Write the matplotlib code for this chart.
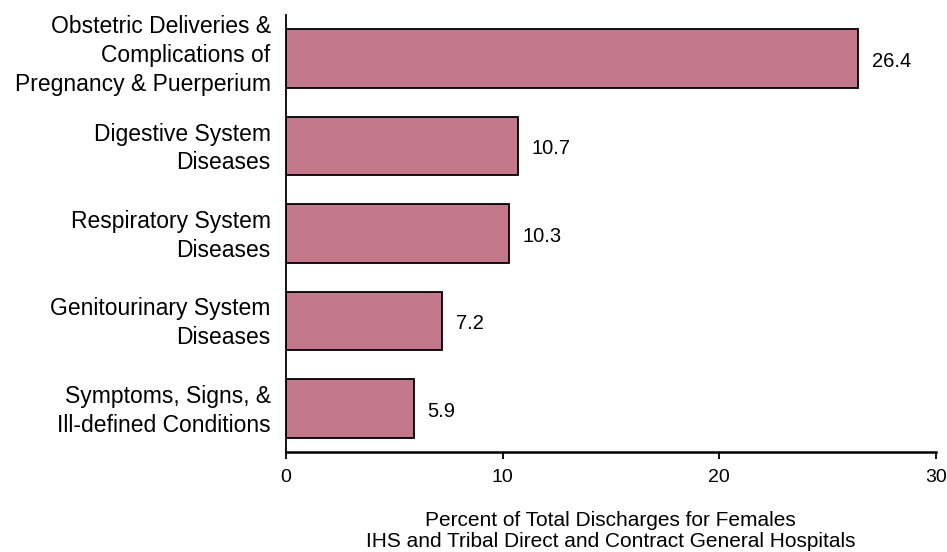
import numpy as np
import matplotlib
matplotlib.use("Agg")
from matplotlib import pyplot as plt
from matplotlib.transforms import ScaledTranslation

categories = [
    "Symptoms, Signs, &\nIll-defined Conditions",
    "Genitourinary System\nDiseases",
    "Respiratory System\nDiseases",
    "Digestive System\nDiseases",
    "Obstetric Deliveries &\nComplications of\nPregnancy & Puerperium",
]
values = [5.9, 7.2, 10.3, 10.7, 26.4]
xticks = [0, 10, 20, 30]

plt.rcParams['font.family'] = ['Liberation Sans', 'DejaVu Sans']

fig = plt.figure(figsize=(9.47, 5.52), dpi=100)
ax = fig.add_axes([0.302, 0.181, 0.686, 0.792])

pos = np.arange(len(categories))
ax.barh(pos, values, height=0.67, color='#C4788C', edgecolor='black', linewidth=1.3)

for y, v in zip(pos, values):
    ax.annotate(f"{v:.1f}", (v, y), xytext=(10, -2), textcoords='offset points',
                va='center', ha='left', fontsize=14.5)

ax.set_xlim(0, 30)
ax.set_ylim(-0.5, 4.5)
ax.set_xticks(xticks)
ax.set_yticks(pos)
ax.tick_params(axis='y', length=0, pad=11, labelsize=16.5)
ax.tick_params(axis='x', length=5, width=1.3, labelsize=14, pad=7)
ax.set_yticklabels(categories, ha='right', multialignment='right', linespacing=1.33)

# nudge labels up a bit; the long top one sits higher above its bar
for i, lab in enumerate(ax.get_yticklabels()):
    dy = 0.09 if i == len(categories) - 1 else 0.03
    lab.set_transform(lab.get_transform() + ScaledTranslation(0, dy, fig.dpi_scale_trans))

for s in ['top', 'right']:
    ax.spines[s].set_visible(False)
ax.spines['left'].set_linewidth(1.3)
ax.spines['bottom'].set_linewidth(1.8)

ax.set_xlabel("Percent of Total Discharges for Females\nIHS and Tribal Direct and Contract General Hospitals",
              fontsize=15, labelpad=18.5, linespacing=1.12)

plt.savefig("out.png", dpi=100)
plt.close()
